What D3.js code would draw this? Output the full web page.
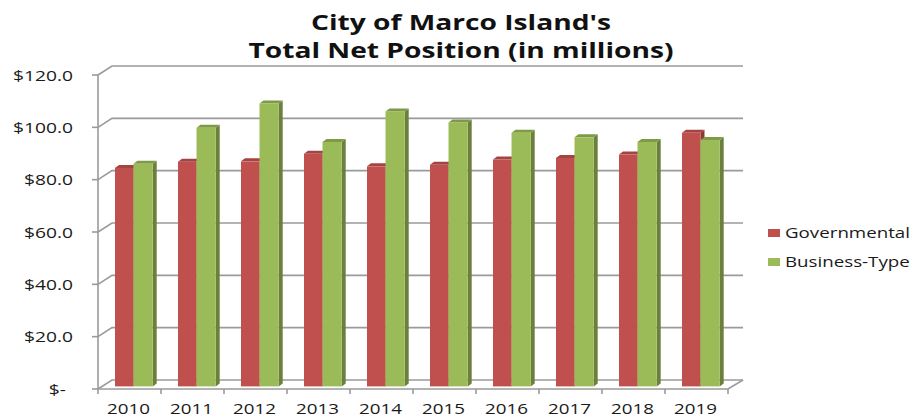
<!DOCTYPE html>
<html><head><meta charset="utf-8">
<script src="https://cdn.jsdelivr.net/npm/d3@7"></script>
<style>body{margin:0;background:#fff}svg{display:block}</style>
</head><body>
<svg id="c" width="911" height="419"></svg>
<script>
const years = ["2010","2011","2012","2013","2014","2015","2016","2017","2018","2019"];
const governmental = [83.5, 85.9, 86.0, 88.9, 84.1, 84.7, 86.7, 87.3, 88.6, 96.9];
const businessType = [85.1, 98.8, 108.1, 93.4, 105.1, 100.9, 96.9, 95.2, 93.4, 94.2];
const seriesNames = ["Governmental", "Business-Type"];
const yTicks = [0, 20, 40, 60, 80, 100, 120];
const titleLines = ["City of Marco Island's", "Total Net Position (in millions)"];

const svg = d3.select("#c");
const font = "'Open Sans', sans-serif";
const colors = [
  {front:"#C0504D", side:"#8C3836", top:"#A34442"},
  {front:"#9BBB59", side:"#6A803B", top:"#7E9A45"}
];
// horizontal stretch helper (reference text is horizontally widened)
function stretch(sel, factor){
  sel.each(function(){
    const len = this.getComputedTextLength();
    d3.select(this).attr("textLength", len*factor).attr("lengthAdjust","spacingAndGlyphs");
  });
}
function factorFor(sel, target){
  return target / sel.node().getComputedTextLength();
}

const DX = 14, DY = -9;
const bdx = 4, bdy = -2.6;
const y = d3.scaleLinear().domain([0,120]).range([389,75]);
const x = d3.scaleBand().domain(years).range([98,728]).paddingInner(0).paddingOuter(0);

const grid = svg.append("g").attr("stroke","#9a9a9a").attr("stroke-width",1.6).attr("fill","none");
yTicks.forEach(t=>{
  const yy = y(t);
  grid.append("path").attr("d",`M98,${yy}L${98+DX},${yy+DY}L743,${yy+DY}`);
  grid.append("line").attr("x1",92).attr("x2",98).attr("y1",yy).attr("y2",yy);
});
grid.append("path").attr("d",`M98,${y(0)}L728,${y(0)}L743,${y(0)+DY}`);
grid.append("line").attr("x1",98).attr("x2",98).attr("y1",y(120)).attr("y2",y(0));
d3.range(years.length+1).forEach(i=>{
  const xx = 98 + i*x.step();
  grid.append("line").attr("x1",xx).attr("x2",xx).attr("y1",y(0)).attr("y2",y(0)+5);
});

const bw = [18.5, 19.2];
const sideW = 4, topH = 3;
const bars = svg.append("g");
years.forEach((yr,i)=>{
  const vals = [governmental[i], businessType[i]];
  let xs = x(yr) + 13 + bdx;
  vals.forEach((v,s)=>{
    const w = bw[s];
    const x0 = xs, x1 = xs + w;
    const yt = y(v) + bdy, yb = y(0) + bdy;
    const c = colors[s];
    bars.append("path").attr("fill",c.side)
      .attr("d",`M${x1},${yt}L${x1+sideW},${yt-topH}L${x1+sideW},${yb-topH}L${x1},${yb}Z`);
    bars.append("path").attr("fill",c.top)
      .attr("d",`M${x0},${yt}L${x0+sideW},${yt-topH}L${x1+sideW},${yt-topH}L${x1},${yt}Z`);
    bars.append("rect").attr("x",x0).attr("y",yt).attr("width",w).attr("height",yb-yt).attr("fill",c.front);
    xs = x1;
  });
});

// y labels
const lab = svg.append("g").attr("font-family",font).attr("font-size",15).attr("fill","#1a1a1a").attr("text-anchor","end");
const yl = lab.selectAll("text").data(yTicks).join("text")
  .attr("x",d=>d===0?66:73).attr("y",d=>y(d)+5.5)
  .text(d=> d===0 ? "$-" : "$" + d3.format(".1f")(d));
stretch(yl, factorFor(yl.filter(d=>d===120), 60));

// x labels
const xg = svg.append("g").attr("font-family",font).attr("font-size",15).attr("fill","#1a1a1a").attr("text-anchor","middle");
const xlab = xg.selectAll("text").data(years).join("text")
  .attr("x",d=>x(d)+x.bandwidth()/2 - 1).attr("y",414).text(d=>d);
stretch(xlab, factorFor(xlab.filter((d,i)=>i===0), 43));

// title
const tg = svg.append("g").attr("font-family",font).attr("font-weight","bold").attr("font-size",21).attr("fill","#111").attr("text-anchor","middle");
const tl = tg.selectAll("text").data(titleLines).join("text")
  .attr("x",461).attr("y",(d,i)=>30+i*28).text(d=>d);
stretch(tl, factorFor(tl.filter((d,i)=>i===0), 300));

// legend
const lg = svg.append("g").attr("font-family",font).attr("font-size",14.5).attr("fill","#1a1a1a");
seriesNames.forEach((n,i)=>{
  const yy = 233 + i*29;
  lg.append("rect").attr("x",768).attr("y",yy-4).attr("width",12).attr("height",8).attr("fill",colors[i].front);
});
const lt = lg.selectAll("text").data(seriesNames).join("text")
  .attr("x",785).attr("y",(d,i)=>238+i*29).text(d=>d);
stretch(lt, factorFor(lt.filter((d,i)=>i===0), 125));
</script>
</body></html>
